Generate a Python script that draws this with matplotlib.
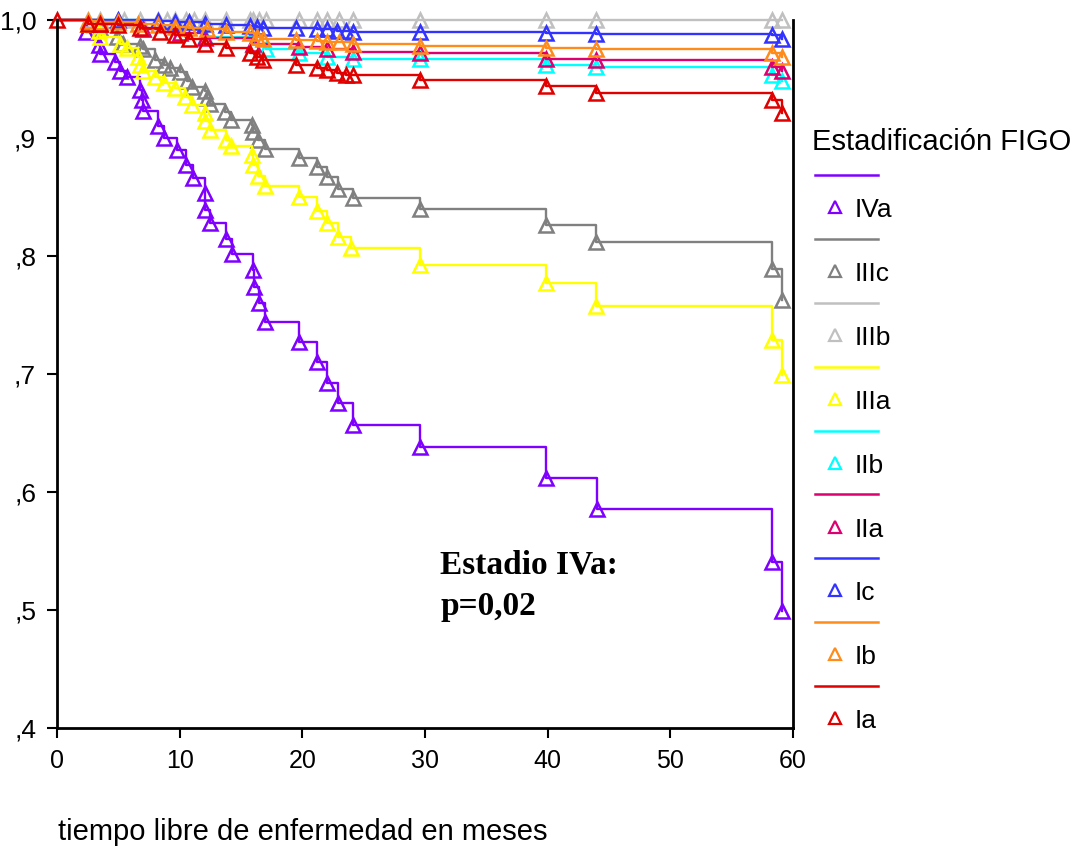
import numpy as np
import matplotlib
matplotlib.use("Agg")
import matplotlib.pyplot as plt
from matplotlib.lines import Line2D

plt.rcParams['font.family'] = ['Liberation Sans', 'DejaVu Sans']

# stages, legend order
stages = ["IVa", "IIIc", "IIIb", "IIIa", "IIb", "IIa", "Ic", "Ib", "Ia"]
colors = ["#8000ff", "#808080", "#c0c0c0", "#ffff00", "#00ffff",
          "#dd0070", "#3333ff", "#ff8c1a", "#e00000"]

# censor / event points (months, survival)
t_IVa = [2.4, 3.4, 3.5, 4.7, 5.1, 5.7, 6.8, 6.9, 7.0, 8.2, 8.75, 9.75, 10.5, 11.05,
         12.06, 12.1, 12.47, 13.8, 14.3, 16.0, 16.1, 16.5, 16.95, 19.7, 21.2, 22.0,
         22.9, 24.15, 29.6, 39.85, 44.0, 58.3, 59.1]
s_IVa = [0.990, 0.979, 0.971, 0.964, 0.957, 0.952, 0.941, 0.932, 0.923, 0.910, 0.900,
         0.890, 0.877, 0.866, 0.853, 0.839, 0.828, 0.814, 0.802, 0.788, 0.774, 0.760,
         0.744, 0.727, 0.710, 0.692, 0.675, 0.657, 0.638, 0.612, 0.586, 0.541, 0.499]

t_IIIc = [3.5, 4.9, 5.4, 6.8, 7.0, 8.0, 8.7, 9.2, 10.0, 10.6, 11.0, 12.06, 12.2, 12.5,
          13.7, 14.2, 15.9, 16.0, 16.4, 16.95, 19.7, 21.2, 22.0, 22.9, 24.15, 29.6,
          39.85, 43.9, 58.3, 59.1]
s_IIIc = [0.993, 0.986, 0.980, 0.978, 0.975, 0.966, 0.962, 0.959, 0.956, 0.948, 0.943,
          0.940, 0.934, 0.929, 0.922, 0.915, 0.911, 0.905, 0.898, 0.891, 0.883, 0.875,
          0.867, 0.857, 0.849, 0.840, 0.826, 0.812, 0.789, 0.763]

t_IIIb = [2.55, 3.5, 5.0, 5.5, 6.8, 8.2, 9.0, 9.6, 10.5, 11.2, 12.06, 13.8, 15.7, 16.0,
          16.5, 17.0, 19.7, 21.2, 22.0, 23.0, 24.15, 29.6, 39.85, 43.9, 58.3, 59.1]
s_IIIb = [1.0, 1.0, 1.0, 1.0, 1.0, 1.0, 1.0, 1.0, 1.0, 1.0, 1.0, 1.0, 1.0, 1.0,
          1.0, 1.0, 1.0, 1.0, 1.0, 1.0, 1.0, 1.0, 1.0, 1.0, 1.0, 1.0]

t_IIIa = [2.55, 3.4, 3.5, 5.1, 5.7, 6.6, 6.8, 7.0, 8.0, 8.7, 9.6, 10.4, 11.0, 12.06,
          12.1, 12.47, 13.8, 14.2, 15.9, 16.0, 16.4, 16.95, 19.7, 21.2, 22.0, 22.9,
          24.0, 29.6, 39.85, 43.9, 58.3, 59.1]
s_IIIa = [0.997, 0.991, 0.986, 0.980, 0.976, 0.969, 0.962, 0.957, 0.952, 0.947, 0.942,
          0.935, 0.928, 0.921, 0.914, 0.907, 0.898, 0.893, 0.886, 0.877, 0.868, 0.859,
          0.850, 0.838, 0.828, 0.816, 0.807, 0.792, 0.777, 0.758, 0.729, 0.699]

t_IIb = [7.0, 12.06, 16.0, 17.0, 19.7, 22.0, 24.15, 29.6, 39.85, 43.9, 58.3, 59.1]
s_IIb = [0.992, 0.986, 0.979, 0.975, 0.972, 0.969, 0.967, 0.967, 0.962, 0.960, 0.953, 0.948]

t_IIa = [3.5, 7.0, 10.0, 12.06, 16.0, 19.7, 22.0, 24.15, 29.6, 39.85, 43.9, 58.3, 59.1]
s_IIa = [0.997, 0.992, 0.989, 0.985, 0.980, 0.977, 0.975, 0.973, 0.972, 0.967, 0.966,
         0.960, 0.957]

t_Ic = [5.0, 8.2, 9.6, 10.8, 12.06, 13.8, 15.7, 16.3, 16.8, 19.5, 21.2, 22.0, 22.8,
        23.6, 24.15, 29.6, 39.85, 43.9, 58.3, 59.1]
s_Ic = [1.0, 0.999, 0.998, 0.998, 0.997, 0.996, 0.995, 0.994, 0.993, 0.993, 0.992,
        0.992, 0.991, 0.991, 0.990, 0.990, 0.989, 0.988, 0.987, 0.984]

t_Ib = [2.55, 3.5, 5.0, 6.6, 8.2, 9.6, 10.8, 12.2, 13.8, 15.7, 16.3, 16.8, 19.5, 21.2,
        22.0, 23.0, 24.15, 29.6, 39.85, 43.9, 58.3, 59.1]
s_Ib = [0.999, 0.998, 0.998, 0.997, 0.996, 0.994, 0.993, 0.992, 0.990, 0.989, 0.986,
        0.984, 0.983, 0.982, 0.981, 0.981, 0.980, 0.978, 0.976, 0.975, 0.972, 0.969]

t_Ia = [0.0, 2.55, 3.5, 5.0, 6.8, 8.4, 9.6, 10.8, 12.06, 13.8, 15.7, 16.3, 16.8, 19.5,
        21.2, 22.0, 22.8, 23.6, 24.15, 29.6, 39.85, 43.9, 58.3, 59.1]
s_Ia = [1.0, 0.997, 0.997, 0.996, 0.993, 0.990, 0.987, 0.984, 0.980, 0.976, 0.972,
        0.969, 0.966, 0.962, 0.959, 0.958, 0.955, 0.953, 0.953, 0.949, 0.944, 0.938,
        0.932, 0.921]

times = [t_IVa, t_IIIc, t_IIIb, t_IIIa, t_IIb, t_IIa, t_Ic, t_Ib, t_Ia]
surv = [s_IVa, s_IIIc, s_IIIb, s_IIIa, s_IIb, s_IIa, s_Ic, s_Ib, s_Ia]

xticks = [0, 10, 20, 30, 40, 50, 60]
yticks = [0.4, 0.5, 0.6, 0.7, 0.8, 0.9, 1.0]
ylabels = [",4", ",5", ",6", ",7", ",8", ",9", "1,0"]

W, H = 1078, 855
fig = plt.figure(figsize=(W / 100, H / 100), dpi=100)
ax = fig.add_axes([57 / W, 1 - 728 / H, 736 / W, 708 / H])

for t, s, c in zip(times, surv, colors):
    t = np.asarray(t)
    s = np.asarray(s)
    if t[0] > 0:
        tl = np.concatenate([[0.0], t])
        sl = np.concatenate([[1.0], s])
    else:
        tl, sl = t, s
    ax.step(tl, sl, where="post", color=c, lw=1.7, clip_on=False)
    ax.plot(t, s, ls="none", marker="^", ms=10, mfc="none", mec=c, mew=1.8,
            clip_on=False)

ax.set_xlim(0, 60)
ax.set_ylim(0.4, 1.0)
ax.set_xticks(xticks)
ax.set_xticklabels([str(x) for x in xticks], fontsize=18)
ax.set_yticks(yticks)
ax.set_yticklabels(ylabels, fontsize=19)
ax.tick_params(direction="out", length=7, width=1.5, pad=8)
ax.spines["top"].set_visible(False)
for side in ["left", "right", "bottom"]:
    ax.spines[side].set_linewidth(2)

ax.text(0.521, 0.252, "Estadio IVa:\np=0,02", transform=ax.transAxes,
        family="Liberation Serif", fontweight="bold", fontsize=24,
        ha="left", va="top", linespacing=1.45)

fig.text(58 / W, 1 - 832 / H, "tiempo libre de enfermedad en meses",
         fontsize=21, ha="left", va="center")

# legend drawn in figure pixels
fig.text(812 / W, 1 - 142 / H, "Estadificación FIGO", fontsize=21,
         ha="left", va="center")
for i, (name, c) in enumerate(zip(stages, colors)):
    ly = 175 + i * 63.9
    fig.add_artist(Line2D([815 / W, 878 / W], [1 - ly / H, 1 - ly / H],
                          color=c, lw=1.8))
    fig.add_artist(Line2D([835 / W], [1 - (ly + 32) / H], marker="^", ms=8,
                          mfc="none", mec=c, mew=1.6, ls="none"))
    fig.text(855 / W, 1 - (ly + 35) / H, name, fontsize=19, ha="left",
             va="center")

fig.savefig("out.png", dpi=100)
